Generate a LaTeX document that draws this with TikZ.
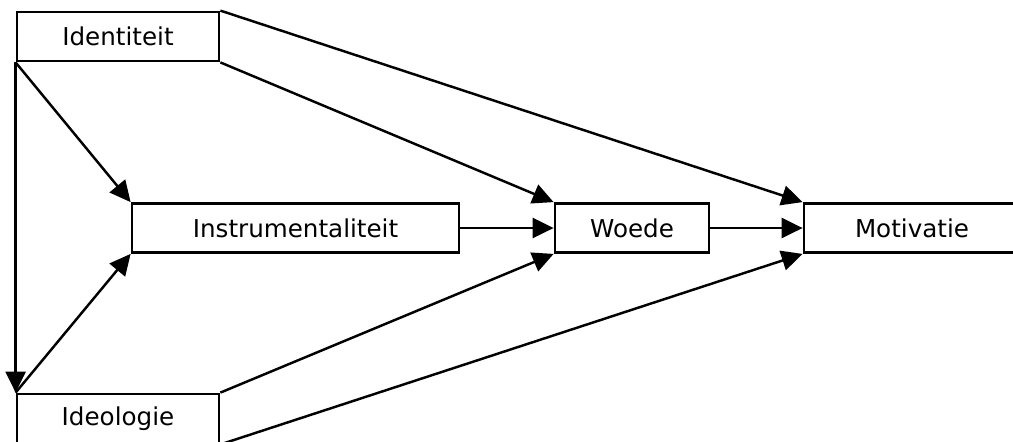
\documentclass[tikz,border=0pt]{standalone}
\usepackage{fontspec}
\setmainfont{DejaVu Sans}
\usetikzlibrary{arrows.meta}
\tikzset{box/.style={draw,line width=1.6pt,minimum height=0.98cm,inner sep=0pt,font=\fontsize{14}{16}\selectfont},
	arr/.style={line width=1.4pt,-{Triangle[length=0.42cm,width=0.4cm]}}}

\begin{document}
\begin{tikzpicture}[x=0.02cm,y=-0.02cm]
		\clip (0,0) rectangle (1013,441);
		\node[box,minimum width=4.04cm] (ident) at (118,36.5) {Identiteit};
		\node[box,minimum width=4.04cm] (ideo) at (118,418.5) {Ideologie};
		\node[box,minimum width=6.54cm] (instr) at (295.5,228) {Instrumentaliteit};
		\node[box,minimum width=3.08cm] (woede) at (632,228) {Woede};
		\node[box,minimum width=4.32cm] (motiv) at (912,228) {Motivatie};
		% links van identiteit en ideologie
		\draw[arr] (ident.south west) -- (ideo.north west);
		\draw[arr] (ident.south west) -- (instr.north west);
		\draw[arr] (ideo.north west) -- (instr.south west);
		\draw[arr] (ident.south east) -- (woede.north west);
		\draw[arr] (ident.north east) -- (motiv.north west);
		\draw[arr] (ideo.north east) -- (woede.south west);
		\draw[arr] (ideo.south east) -- (motiv.south west);
		% middelste keten
		\draw[arr] (instr.east) -- (woede.west);
		\draw[arr] (woede.east) -- (motiv.west);
\end{tikzpicture}
\end{document}
